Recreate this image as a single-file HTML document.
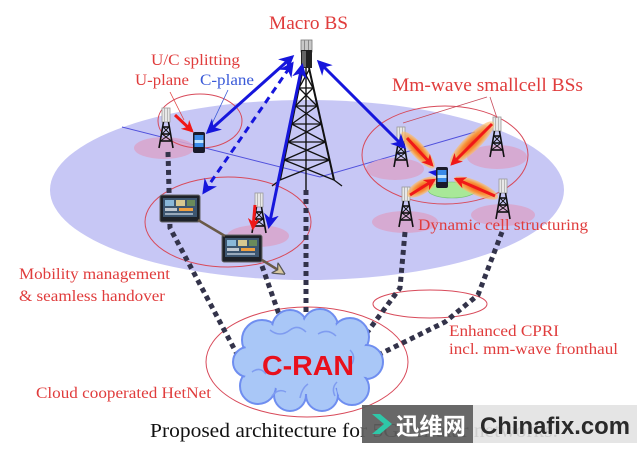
<!DOCTYPE html>
<html><head><meta charset="utf-8"><style>
html,body{margin:0;padding:0;background:#fff;width:640px;height:450px;overflow:hidden}
svg{display:block}
.t{font-family:"Liberation Serif",serif;fill:#e03c3c}
</style></head><body>
<svg width="640" height="450" viewBox="0 0 640 450" xmlns="http://www.w3.org/2000/svg">
<defs>
<marker id="ab" viewBox="0 0 10 10" refX="8" refY="5" markerWidth="5" markerHeight="5" orient="auto-start-reverse" markerUnits="strokeWidth"><path d="M0,0 L10,5 L0,10 L3,5 z" fill="#1616dc"/></marker>
<marker id="ar" viewBox="0 0 10 10" refX="8" refY="5" markerWidth="4" markerHeight="4" orient="auto" markerUnits="strokeWidth"><path d="M0,0 L10,5 L0,10 L3,5 z" fill="#f01818"/></marker>
<marker id="ag" viewBox="0 0 10 10" refX="8" refY="5" markerWidth="5" markerHeight="5" orient="auto" markerUnits="strokeWidth"><path d="M0,0 L10,5 L0,10 L3,5 z" fill="#d8c8a0" stroke="#555" stroke-width="1"/></marker>
<radialGradient id="og"><stop offset="0" stop-color="#f05018"/><stop offset="0.6" stop-color="#f89a40"/><stop offset="1" stop-color="#fbc070" stop-opacity="0.6"/></radialGradient>
<g id="st">
  <rect x="-4" y="0" width="8" height="14" fill="#e8e8e8" stroke="#999" stroke-width="0.8"/>
  <line x1="-1.5" y1="0" x2="-1.5" y2="14" stroke="#aaa" stroke-width="0.8"/>
  <line x1="1.5" y1="0" x2="1.5" y2="14" stroke="#aaa" stroke-width="0.8"/>
  <g stroke="#111" stroke-width="1.6" fill="none">
    <line x1="-2.5" y1="14" x2="-7" y2="40"/><line x1="2.5" y1="14" x2="7" y2="40"/>
    <line x1="-3" y1="19" x2="3" y2="19"/><line x1="-4" y1="26" x2="4" y2="26"/><line x1="-5.5" y1="33" x2="5.5" y2="33"/>
    <line x1="-3" y1="19" x2="4" y2="26" stroke-width="1"/><line x1="3" y1="19" x2="-4" y2="26" stroke-width="1"/>
    <line x1="-4" y1="26" x2="5.5" y2="33" stroke-width="1"/><line x1="4" y1="26" x2="-5.5" y2="33" stroke-width="1"/>
  </g>
</g>
<g id="ph">
  <rect x="0" y="0" width="12" height="21" rx="2" fill="#1a1a2a"/>
  <rect x="1.5" y="3" width="9" height="12" fill="#3a8ae8"/>
  <rect x="1.5" y="8" width="9" height="3" fill="#bfe4ff"/>
</g>
<g id="tb">
  <rect x="0" y="0" width="40" height="27" rx="2" fill="#1e2228" stroke="#666" stroke-width="1"/>
  <rect x="3" y="3" width="34" height="19" fill="#3d5670"/>
  <rect x="5" y="5" width="9" height="6" fill="#8ab8d8"/><rect x="16" y="5" width="9" height="6" fill="#d8c890"/><rect x="27" y="5" width="8" height="6" fill="#6a8a5a"/>
  <rect x="5" y="13" width="12" height="3" fill="#c0c8d0"/><rect x="19" y="13" width="14" height="3" fill="#f0a040"/>
  <rect x="5" y="18" width="28" height="2" fill="#9ab"/>
</g>
</defs>

<rect width="640" height="450" fill="#fff"/>

<!-- big lavender ground -->
<ellipse cx="307" cy="190" rx="257" ry="90" fill="#c7c7f5"/>
<polyline points="122,127 320,177 475,132" fill="none" stroke="#5050dc" stroke-width="1"/>

<!-- pink cells -->
<g fill="#d9a6cc" opacity="0.85">
<ellipse cx="164" cy="148" rx="30" ry="11"/>
<ellipse cx="258" cy="236" rx="31" ry="11"/>
<ellipse cx="395" cy="169" rx="29" ry="11"/>
<ellipse cx="497" cy="157" rx="30" ry="12"/>
<ellipse cx="405" cy="222" rx="33" ry="11"/>
<ellipse cx="503" cy="215" rx="32" ry="11"/>
</g>
<ellipse cx="452" cy="190" rx="24" ry="8" fill="#a8e898" stroke="#70c070" stroke-width="0.6"/>

<!-- red thin ellipses -->
<g fill="none" stroke="#d84a5a" stroke-width="1">
<ellipse cx="200" cy="121" rx="42" ry="27"/>
<ellipse cx="228" cy="222" rx="83" ry="45"/>
<ellipse cx="445" cy="155" rx="83" ry="49"/>
<ellipse cx="307" cy="362" rx="101" ry="55"/>
<ellipse cx="430" cy="304" rx="57" ry="14"/>
</g>

<!-- dotted fronthaul lines -->
<g fill="none" stroke="#33334a" stroke-width="5" stroke-dasharray="5 4">
<path d="M168,152 L170,228 L238,356"/>
<path d="M262,266 L281,320"/>
<path d="M306,190 L306,320"/>
<path d="M405,232 L400,288 L360,342"/>
<path d="M502,232 L478,295 L445,322 L372,358"/>
</g>

<!-- macro tower -->
<g stroke="#111" stroke-width="2" fill="none">
<line x1="303" y1="68" x2="280" y2="180"/><line x1="309" y1="68" x2="334" y2="180"/>
<line x1="306" y1="68" x2="306" y2="190" stroke-width="1.4"/>
<g stroke-width="1.3">
<line x1="299" y1="88" x2="313" y2="88"/><line x1="295.5" y1="106" x2="317" y2="106"/><line x1="291.7" y1="124" x2="321.3" y2="124"/><line x1="288" y1="142" x2="325.4" y2="142"/><line x1="284.2" y1="160" x2="329.5" y2="160"/>
<line x1="303" y1="70" x2="313" y2="88"/><line x1="309" y1="70" x2="299" y2="88"/>
<line x1="299" y1="88" x2="317" y2="106"/><line x1="313" y1="88" x2="295.5" y2="106"/>
<line x1="295.5" y1="106" x2="321.3" y2="124"/><line x1="317" y1="106" x2="291.7" y2="124"/>
<line x1="291.7" y1="124" x2="325.4" y2="142"/><line x1="321.3" y1="124" x2="288" y2="142"/>
<line x1="288" y1="142" x2="329.5" y2="160"/><line x1="325.4" y1="142" x2="284.2" y2="160"/>
<line x1="284.2" y1="160" x2="334" y2="180"/><line x1="329.5" y1="160" x2="280" y2="180"/>
<line x1="280" y1="180" x2="272" y2="186"/><line x1="334" y1="180" x2="342" y2="186"/>
</g>
</g>
<rect x="301" y="40" width="11" height="12" fill="#c8c8c8" stroke="#777" stroke-width="0.8"/>
<line x1="304.5" y1="40" x2="304.5" y2="52" stroke="#888"/><line x1="308.5" y1="40" x2="308.5" y2="52" stroke="#888"/>
<rect x="301" y="50" width="11" height="18" fill="#222"/>
<rect x="302" y="51" width="4" height="16" fill="#666"/>

<!-- small towers -->
<use href="#st" x="166" y="108"/>
<use href="#st" x="259" y="193"/>
<use href="#st" x="401" y="127"/>
<use href="#st" x="497" y="117"/>
<use href="#st" x="406" y="187"/>
<use href="#st" x="503" y="179"/>

<!-- beams -->
<g fill="url(#og)">
<ellipse cx="418" cy="150" rx="24" ry="7" transform="rotate(48 418 150)"/>
<ellipse cx="472" cy="143" rx="30" ry="8" transform="rotate(136 472 143)"/>
<ellipse cx="422" cy="187" rx="17" ry="7" transform="rotate(-31 422 187)"/>
<ellipse cx="476" cy="188" rx="24" ry="7" transform="rotate(24 476 188)"/>
</g>
<g stroke="#f01818" stroke-width="3" marker-end="url(#ar)">
<line x1="407" y1="138" x2="432" y2="165"/>
<line x1="492" y1="124" x2="452" y2="164"/>
<line x1="410" y1="195" x2="434" y2="180"/>
<line x1="495" y1="196" x2="456" y2="179"/>
<line x1="175" y1="115" x2="192" y2="131"/>
<line x1="255" y1="205" x2="253" y2="228"/>
</g>
<line x1="170" y1="92" x2="184" y2="120" stroke="#e04040" stroke-width="0.8"/>
<line x1="228" y1="90" x2="210" y2="128" stroke="#3a5ad8" stroke-width="0.8"/>
<line x1="487" y1="97" x2="403" y2="123" stroke="#c84a5a" stroke-width="0.8"/>
<line x1="490" y1="97" x2="497" y2="118" stroke="#c84a5a" stroke-width="0.8"/>

<!-- phones & tablets -->
<use href="#ph" x="193" y="132"/>
<use href="#ph" x="436" y="167"/>
<polygon points="428,172 436,170 436,176" fill="#1616dc"/>
<use href="#tb" x="160" y="195"/>
<use href="#tb" x="222" y="235"/>
<line x1="198" y1="220" x2="225" y2="236" stroke="#6a5a48" stroke-width="2.5"/>
<line x1="262" y1="260" x2="283" y2="273" stroke="#6a5a48" stroke-width="2.5" marker-end="url(#ag)"/>

<!-- blue arrows -->
<g stroke="#1616dc" stroke-width="3" fill="none" marker-start="url(#ab)" marker-end="url(#ab)">
<line x1="208" y1="132" x2="292" y2="57"/>
<line x1="204" y1="192" x2="292" y2="64" stroke-dasharray="7 5"/>
<line x1="269" y1="226" x2="302" y2="66"/>
<line x1="404" y1="147" x2="319" y2="62"/>
</g>

<!-- cloud -->
<g fill="#a9c7f7" stroke="#6f8ef0" stroke-width="2">
<circle cx="262" cy="340" r="20"/><circle cx="290" cy="328" r="18"/><circle cx="320" cy="327" r="18"/><circle cx="350" cy="337" r="19"/>
<circle cx="366" cy="362" r="17"/><circle cx="352" cy="388" r="17"/><circle cx="322" cy="395" r="16"/><circle cx="290" cy="395" r="16"/>
<circle cx="258" cy="386" r="18"/><circle cx="248" cy="362" r="15"/>
</g>
<g fill="#a9c7f7">
<circle cx="262" cy="340" r="18"/><circle cx="290" cy="328" r="16"/><circle cx="320" cy="327" r="16"/><circle cx="350" cy="337" r="17"/>
<circle cx="366" cy="362" r="15"/><circle cx="352" cy="388" r="15"/><circle cx="322" cy="395" r="14"/><circle cx="290" cy="395" r="14"/>
<circle cx="258" cy="386" r="16"/><circle cx="248" cy="362" r="13"/>
<ellipse cx="306" cy="362" rx="52" ry="32"/>
</g>
<g fill="none" stroke="#7f9cf0" stroke-width="1.5">
<path d="M270,330 q10,8 20,0 q8,-6 16,2"/><path d="M318,334 q10,-6 18,2"/><path d="M252,372 q8,-6 14,2"/>
<path d="M300,398 q2,-10 8,-14"/><path d="M335,396 q-4,-8 2,-14"/><path d="M350,350 q6,6 2,14"/><path d="M272,396 q6,-8 14,-4"/>
</g>
<text x="262" y="375" font-family="Liberation Sans,Arial,sans-serif" font-weight="bold" font-size="28" fill="#e8101c" textLength="92" lengthAdjust="spacingAndGlyphs">C-RAN</text>

<!-- labels -->
<text class="t" x="269" y="29" font-size="19" textLength="79" lengthAdjust="spacingAndGlyphs">Macro BS</text>
<text class="t" x="151" y="65" font-size="16" textLength="89" lengthAdjust="spacingAndGlyphs">U/C splitting</text>
<text class="t" x="135" y="85" font-size="16" textLength="54" lengthAdjust="spacingAndGlyphs">U-plane</text>
<text x="200" y="85" font-family="Liberation Serif,serif" font-size="16" fill="#3a5ad8" textLength="54" lengthAdjust="spacingAndGlyphs">C-plane</text>
<text class="t" x="392" y="91" font-size="19" textLength="191" lengthAdjust="spacingAndGlyphs">Mm-wave smallcell BSs</text>
<text class="t" x="418" y="230" font-size="16" textLength="170" lengthAdjust="spacingAndGlyphs">Dynamic cell structuring</text>
<text class="t" x="19" y="279" font-size="16" textLength="151" lengthAdjust="spacingAndGlyphs">Mobility management</text>
<text class="t" x="19" y="301" font-size="16" textLength="146" lengthAdjust="spacingAndGlyphs">&amp; seamless handover</text>
<text class="t" x="36" y="398" font-size="16" textLength="175" lengthAdjust="spacingAndGlyphs">Cloud cooperated HetNet</text>
<text class="t" x="449" y="336" font-size="16" textLength="110" lengthAdjust="spacingAndGlyphs">Enhanced CPRI</text>
<text class="t" x="449" y="354" font-size="16" textLength="169" lengthAdjust="spacingAndGlyphs">incl. mm-wave fronthaul</text>
<text x="150" y="437" font-family="Liberation Serif,serif" font-size="20" fill="#111" textLength="408" lengthAdjust="spacingAndGlyphs">Proposed architecture for 5G cellular networks.</text>

<!-- watermark -->
<rect x="362" y="405" width="111" height="38" fill="#5c5c5c" opacity="0.93"/>
<rect x="473" y="405" width="164" height="38" fill="#e2e2e2" opacity="0.9"/>
<path d="M372,414 L380,414 L392,424 L380,434 L372,434 L384,424 z" fill="#2ec7a8"/>
<text x="396" y="434" font-family="Noto Sans CJK SC,WenQuanYi Zen Hei,sans-serif" font-weight="bold" font-size="23" fill="#fff" textLength="70" lengthAdjust="spacingAndGlyphs">迅维网</text>
<text x="480" y="434" font-family="Liberation Sans,Arial,sans-serif" font-weight="bold" font-size="24" fill="#2a2a2a" textLength="150" lengthAdjust="spacingAndGlyphs">Chinafix.com</text>
</svg>
</body></html>
